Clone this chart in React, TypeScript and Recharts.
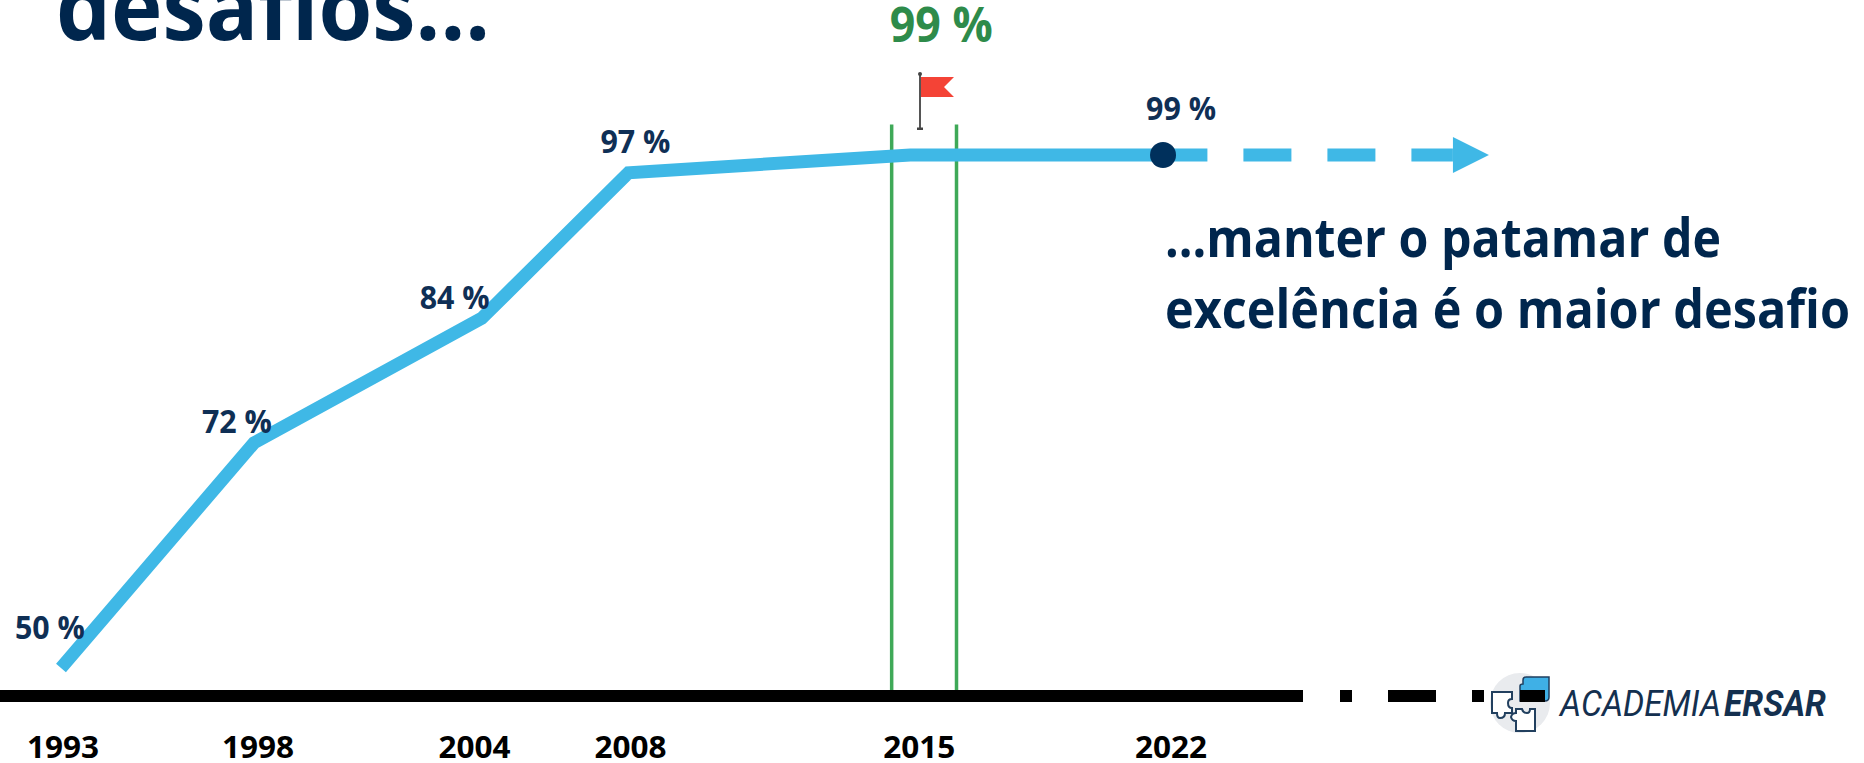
import React from "react";
import { LineChart, Line, XAxis, YAxis, ReferenceLine, LabelList } from "recharts";

// Values
const years = [1993, 1998, 2003.9, 2007.7, 2015, 2021.55, 2022.7, 2029.06];
const coverage = [50, 71.5, 83.4, 97.3, 99, 99, 99, null];
const projected = [null, null, null, null, null, null, 99, 99];
const pointLabels = ["50 %", "72 %", "84 %", "97 %", "99 %", "99 %", "", ""];
const tickYears = [1993, 1998, 2004, 2007.7, 2015, 2021.55];
const tickLabels = ["1993", "1998", "2004", "2008", "2015", "2022"];
const bandYears = [2014.52, 2016.2];
const bandExtent = [47.3, 101.9];

const rows = years.map((year, i) => ({ year, coverage: coverage[i], projected: projected[i], label: pointLabels[i] }));

const NAVY = "#00264D";
const LABEL = "#0F2F55";
const BLUE = "#3FB8E6";
const GREEN = "#3FA958";
const FONT = "'Open Sans', sans-serif";

// label placement relative to each point
const labelStyles = [
  { dx: -11, dy: -29, size: 32, fill: LABEL, len: 70 },
  { dx: -17, dy: -10, size: 32, fill: LABEL, len: 70 },
  { dx: -27, dy: -9, size: 32, fill: LABEL, len: 70 },
  { dx: 7, dy: -20, size: 32, fill: LABEL, len: 70 },
  { dx: 31, dy: -113, size: 49, fill: "#2E8B4A", len: 103 },
  { dx: 18, dy: -35, size: 32, fill: LABEL, len: 70 },
];
const tickDx = [2, 4, -11, 2, 9, 8];

const PointLabel = (props: any) => {
  const { x, y, index, value } = props;
  const s = labelStyles[index];
  if (!s || !value) return null;
  return (
    <text x={x + s.dx} y={y + s.dy} textAnchor="middle" fontFamily={FONT} fontWeight={700} fontSize={s.size} fill={s.fill} textLength={s.len} lengthAdjust="spacingAndGlyphs">
      {value}
    </text>
  );
};

const YearTick = (props: any) => {
  const { x, y, index } = props;
  return (
    <text x={x + tickDx[index]} y={y + 54} textAnchor="middle" fontFamily={FONT} fontWeight={700} fontSize={31} fill="#000" textLength={72} lengthAdjust="spacingAndGlyphs">
      {tickLabels[index]}
    </text>
  );
};

const EndDot = (props: any) => {
  const { cx, cy, index } = props;
  if (index !== 5) return <g key={index} />;
  return <circle key={index} cx={cx} cy={cy} r={13} fill="#00305C" />;
};

const ArrowDot = (props: any) => {
  const { cx, cy, index } = props;
  if (index !== 7) return <g key={index} />;
  return <polygon key={index} points={`${cx},${cy - 18} ${cx + 36},${cy} ${cx},${cy + 18}`} fill={BLUE} />;
};

const Overlay = () => (
  <svg width={1864} height={763} style={{ position: "absolute", left: 0, top: 0 }}>
    <text x={56} y={40} fontFamily={FONT} fontWeight={700} fontSize={92} fill={NAVY} textLength={434} lengthAdjust="spacingAndGlyphs">desafios...</text>
    <text x={1165} y={257} fontFamily={FONT} fontWeight={700} fontSize={54} fill={NAVY} textLength={556} lengthAdjust="spacingAndGlyphs">...manter o patamar de</text>
    <text x={1165} y={328} fontFamily={FONT} fontWeight={700} fontSize={54} fill={NAVY} textLength={685} lengthAdjust="spacingAndGlyphs">excelência é o maior desafio</text>
    <g>
      <line x1={920} y1={73} x2={920} y2={129} stroke="#555" strokeWidth={2} />
      <circle cx={920} cy={74} r={2} fill="#444" />
      <rect x={917} y={127.5} width={6} height={2.5} fill="#444" />
      <polygon points="921,77 954,77 944,87 954,97 921,97" fill="#F44336" />
    </g>
    <g>
      <circle cx={1520} cy={703} r={30} fill="#E9EBEE" />
      <path d="M1526 677 H1549 V697 Q1549 701 1545 701 H1520 V686 Q1520 684 1523 684 V680 Q1523 677 1526 677 Z" fill="#3FB0E6" stroke="#1F3F60" strokeWidth={1.5} />
      <path d="M1492 692 H1512 V699 Q1508 699 1508 703 Q1508 708 1512 708 V713 H1505 Q1505 718 1500 718 Q1497 718 1497 713 H1492 Z" fill="#fff" stroke="#22405F" strokeWidth={2} />
      <path d="M1516 731 V721 Q1512 721 1511 717 Q1512 713 1516 713 V709 H1522 Q1523 713 1527 713 Q1530 713 1530 709 H1535 V731 Z" fill="#fff" stroke="#22405F" strokeWidth={2} />
    </g>
    <text x={1560} y={716} fontFamily="'Roboto', sans-serif" fontStyle="italic" fontWeight={400} fontSize={37} fill="#14304F" textLength={161} lengthAdjust="spacingAndGlyphs">ACADEMIA</text>
    <text x={1724} y={716} fontFamily="'Roboto', sans-serif" fontStyle="italic" fontWeight={700} fontSize={37} fill="#14304F" textLength={102} lengthAdjust="spacingAndGlyphs">ERSAR</text>
  </svg>
);

export default function App() {
  return (
    <div style={{ position: "absolute", left: 0, top: 0, width: 1864, height: 763, overflow: "hidden", background: "#fff" }}>
      <Overlay />
      <div style={{ position: "absolute", left: 0, top: 0 }}>
        <LineChart width={1864} height={763} data={rows} margin={{ top: 0, right: 0, bottom: 0, left: 0 }}>
          <XAxis
            dataKey="year"
            type="number"
            domain={[1991.42, 2039.71]}
            allowDataOverflow
            ticks={tickYears}
            interval={0}
            height={67}
            tickLine={false}
            tick={<YearTick />}
            axisLine={{ stroke: "#000", strokeWidth: 12, strokeDasharray: "1303 37 12 36 48 36 12 36 25 400" }}
          />
          <YAxis hide type="number" domain={[47.33, 113.8]} allowDataOverflow />
          {bandYears.map((x) => (
            <ReferenceLine
              key={x}
              segment={[{ x, y: bandExtent[0] }, { x, y: bandExtent[1] }]}
              stroke={GREEN}
              strokeWidth={3.5}
              ifOverflow="visible"
            />
          ))}
          <Line dataKey="coverage" stroke={BLUE} strokeWidth={13} strokeLinejoin="miter" strokeLinecap="butt" dot={<EndDot />} activeDot={false} isAnimationActive={false}>
            <LabelList dataKey="label" content={<PointLabel />} />
          </Line>
          <Line dataKey="projected" stroke={BLUE} strokeWidth={13} strokeLinecap="butt" strokeDasharray="0 36 48 36 48 36 42 100" dot={<ArrowDot />} activeDot={false} isAnimationActive={false} />
        </LineChart>
      </div>
    </div>
  );
}
